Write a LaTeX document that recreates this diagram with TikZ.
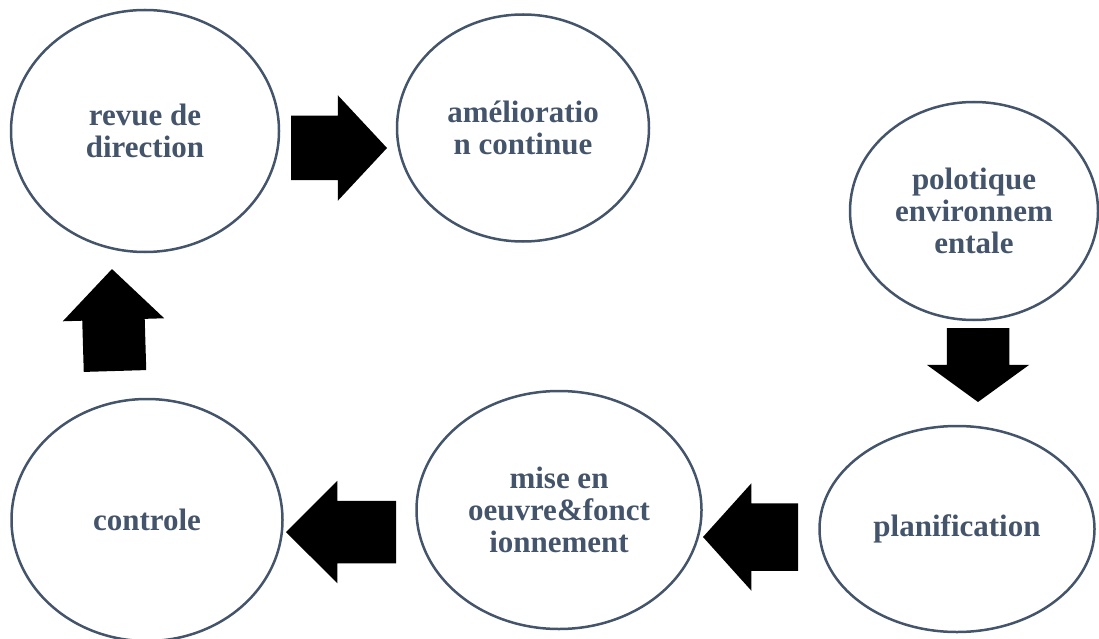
\documentclass[tikz,border=0pt]{standalone}
\usepackage{fontspec}
\setmainfont{Liberation Serif}
\usetikzlibrary{shapes.geometric,shapes.arrows}
\definecolor{slate}{HTML}{44546A}

\begin{document}
\begin{tikzpicture}[x=1pt,y=-1pt,
                    every node/.style={ellipse,draw=slate,line width=2.5pt,inner sep=0pt,
                                       text=slate,align=center,
                                       font=\fontsize{31}{32}\selectfont\bfseries},
                    bigarrow/.style n args={4}{single arrow,draw=none,fill=black,anchor=tail,
                                       inner xsep=0pt,inner ysep=#1,outer sep=0pt,
                                       minimum width=0pt,single arrow head extend=#2,
                                       minimum height=#3,single arrow tip angle=#4}]
\useasboundingbox (0,0) rectangle (1099,639);

\node[minimum width=268pt,minimum height=242pt] (revue)  at (145,131) {revue de\\direction};
\node[minimum width=252pt,minimum height=227pt] (amelio) at (523,128) {amélioratio\\n continue};
\node[minimum width=248pt,minimum height=218pt] (polit)  at (974,211) {polotique\\environnem\\entale};
\node[minimum width=275pt,minimum height=206pt] (planif) at (957,529) {planification};
\node[minimum width=285pt,minimum height=238pt] (mise)   at (559,510) {mise en\\oeuvre\&fonct\\ionnement};
\node[minimum width=271pt,minimum height=242pt] (ctrl)   at (147,520) {controle};

\node[bigarrow={31pt}{20.5pt}{96pt}{94}]                 (a1) at (291,148) {};
\node[bigarrow={30pt}{20pt}{74pt}{108},rotate=-90]       (a2) at (978,328) {};
\node[bigarrow={32.5pt}{20pt}{95pt}{96},rotate=180]      (a3) at (798,537) {};
\node[bigarrow={30pt}{20pt}{110pt}{90},rotate=180]       (a4) at (396,532) {};
\node[bigarrow={30pt}{19.5pt}{102pt}{90},rotate=91.7]    (a5) at (115,371) {};

\end{tikzpicture}
\end{document}
